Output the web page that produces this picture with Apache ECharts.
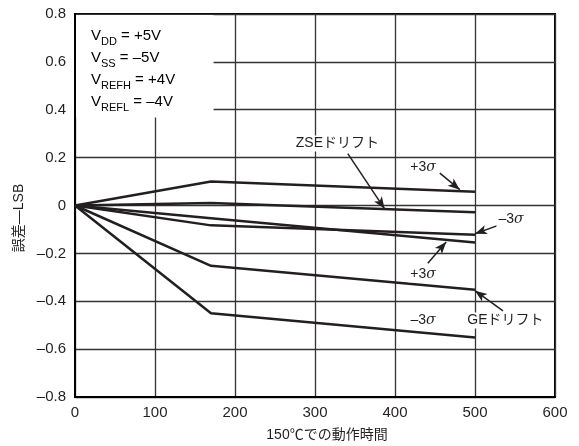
<!DOCTYPE html>
<html>
<head>
<meta charset="utf-8">
<script src="https://cdn.jsdelivr.net/npm/echarts@6/dist/echarts.min.js"></script>
<style>
  html, body { margin: 0; padding: 0; background: #fff; }
  #chart { width: 579px; height: 446px; }
</style>
</head>
<body>
<div id="chart"></div>
<script>
  // データ
  const hours = [0, 170, 500]
  const zsePlus = [0, 0.100, 0.057]
  const zseDrift = [0, 0.010, -0.028]
  const zseMinus = [0, -0.083, -0.122]
  const gePlusUpper = [0, -0.053, -0.155]
  const gePlus = [0, -0.252, -0.352]
  const geMinus = [0, -0.450, -0.551]
  const allSeries = [zsePlus, zseDrift, zseMinus, gePlusUpper, gePlus, geMinus]

  const FONT = '"Liberation Sans", "Noto Sans CJK JP", sans-serif'
  const INK = '#231f20'

  const toPairs = (ys) => hours.map((x, i) => [x, ys[i]])

  // 矢印 (データ座標)
  const arrows = [
    [[341, 0.217], [387, -0.014]],
    [[456, 0.135], [481, 0.066]],
    [[529, -0.083], [500, -0.118]],
    [[441, -0.241], [464, -0.152]],
    [[535, -0.440], [500, -0.356]],
  ]

  const myChart = echarts.init(document.getElementById('chart'))

  const series = allSeries.map((ys, i) => ({
    type: 'line',
    data: toPairs(ys),
    symbol: 'none',
    lineStyle: { color: INK, width: 2.5 },
    silent: true,
    z: 3,
    markLine: i === 0 ? {
      silent: true,
      symbol: ['none', 'arrow'],
      symbolSize: [7, 12],
      label: { show: false },
      lineStyle: { color: INK, width: 1.5, type: 'solid' },
      data: arrows.map((a) => [{ coord: a[0] }, { coord: a[1] }]),
    } : undefined,
  }))

  myChart.setOption({
    animation: false,
    grid: { left: 75, right: 24, top: 14, bottom: 49, show: true, borderColor: '#000', borderWidth: 2 },
    xAxis: {
      type: 'value', min: 0, max: 600, interval: 100,
      axisLine: { show: true, onZero: false, lineStyle: { color: '#000', width: 2 } },
      axisTick: { show: false },
      axisLabel: { color: INK, fontSize: 15, fontFamily: FONT, margin: 8 },
      splitLine: { show: true, lineStyle: { color: '#333', width: 1.3 } },
    },
    yAxis: {
      type: 'value', min: -0.8, max: 0.8, interval: 0.2,
      axisLine: { show: true, onZero: false, lineStyle: { color: '#000', width: 2 } },
      axisTick: { show: false },
      axisLabel: {
        color: INK, fontSize: 15, fontFamily: FONT, margin: 9,
        formatter: (v) => (Math.abs(v) < 1e-9 ? '0' : v.toFixed(1).replace('-', '–')),
      },
      splitLine: { show: true, lineStyle: { color: '#333', width: 1.3 } },
    },
    series,
  })

  // 注記
  const px = (p) => myChart.convertToPixel({ gridIndex: 0 }, p)
  const boxTL = px([0, 0.8])
  const boxBR = px([172, 0.372])

  const sub = { fontSize: 11, fontFamily: FONT, color: INK, verticalAlign: 'bottom', lineHeight: 22 }
  const main = { fontSize: 15, fontFamily: FONT, color: INK, lineHeight: 22 }
  const sig = { fontSize: 14, fontFamily: '"DejaVu Serif", serif', fontStyle: 'italic', color: INK }

  const label = (pos, text) => {
    const p = px(pos)
    return {
      type: 'text', x: p[0], y: p[1], z: 20,
      style: {
        text, align: 'center', verticalAlign: 'middle',
        font: '14px ' + FONT, fill: INK,
        backgroundColor: '#fff', padding: [1, 2],
        rich: { s: sig },
      },
    }
  }

  const condLine = (y, a, b) => ({
    type: 'text', x: boxTL[0] + 16, y, z: 21,
    style: {
      text: '{m|V}{s|' + a + '}{m| = ' + b + '}',
      verticalAlign: 'middle',
      rich: { m: main, s: sub },
    },
  })

  myChart.setOption({
    graphic: [
      {
        type: 'rect', z: 15,
        shape: { x: boxTL[0] + 1, y: boxTL[1] + 1, width: boxBR[0] - boxTL[0], height: boxBR[1] - boxTL[1] },
        style: { fill: '#fff' },
      },
      condLine(boxTL[1] + 22, 'DD', '+5V'),
      condLine(boxTL[1] + 44, 'SS', '–5V'),
      condLine(boxTL[1] + 66, 'REFH', '+4V'),
      condLine(boxTL[1] + 88, 'REFL', '–4V'),
      label([328, 0.259], 'ZSEドリフト'),
      label([435, 0.159], '+3{s|σ}'),
      label([545, -0.057], '–3{s|σ}'),
      label([435, -0.287], '+3{s|σ}'),
      label([435, -0.480], '–3{s|σ}'),
      label([538, -0.480], 'GEドリフト'),
      {
        type: 'text', x: 327, y: 435, z: 20,
        style: { text: '150℃での動作時間', align: 'center', verticalAlign: 'middle', font: '14px ' + FONT, fill: INK },
      },
      {
        type: 'text', x: 19, y: 218, z: 20, rotation: Math.PI / 2,
        style: { text: '誤差—LSB', align: 'center', verticalAlign: 'middle', font: '14px ' + FONT, fill: INK },
      },
    ],
  })
</script>
</body>
</html>
